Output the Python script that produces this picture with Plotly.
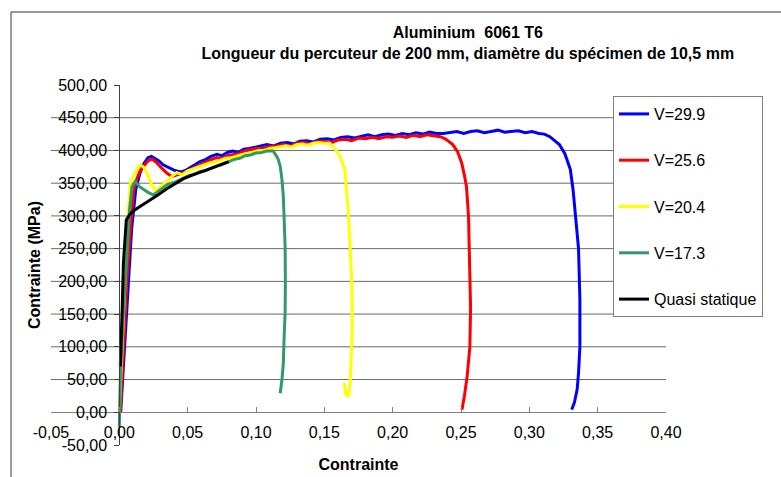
import plotly.graph_objects as go

# ---------------- data ----------------
SERIES_NAMES = ["V=29.9", "V=25.6", "V=20.4", "V=17.3", "Quasi statique"]

X_V299 = [0.001, 0.004, 0.0065, 0.009, 0.012, 0.015, 0.018, 0.021, 0.0235, 0.026, 0.029, 0.032,
          0.036, 0.040, 0.0446, 0.048, 0.052, 0.056, 0.059, 0.063, 0.067, 0.0714, 0.075, 0.079,
          0.083, 0.087, 0.091, 0.095, 0.099, 0.103, 0.108, 0.113, 0.118, 0.123, 0.128, 0.132,
          0.137, 0.142, 0.147, 0.152, 0.157, 0.162, 0.167, 0.172, 0.177, 0.182, 0.187, 0.192,
          0.197, 0.202, 0.207, 0.212, 0.217, 0.222, 0.227, 0.232, 0.237, 0.242, 0.247, 0.252,
          0.257, 0.262, 0.267, 0.272, 0.277, 0.282, 0.287, 0.292, 0.297, 0.302, 0.307, 0.311,
          0.315, 0.318, 0.322, 0.326, 0.330, 0.332, 0.334, 0.336, 0.337, 0.337, 0.336, 0.335,
          0.333, 0.331]
Y_V299 = [0, 100, 200, 280, 340, 365, 380, 389, 391, 388, 384, 378,
          374, 370, 367, 369, 374, 379, 383, 386, 391, 394, 392, 397,
          399, 397, 402, 403, 405, 406, 409, 407, 411, 412, 410, 414,
          415, 413, 417, 418, 416, 420, 421, 419, 422, 424, 421, 424,
          425, 423, 426, 424, 427, 425, 428, 426, 426, 428, 429, 426,
          429, 430, 427, 429, 431, 428, 429, 430, 427, 429, 426, 425,
          421, 416, 409, 395, 371, 340, 300, 250, 172, 100, 60, 35,
          15, 4]

X_V256 = [0.0007, 0.003, 0.0056, 0.008, 0.0105, 0.013, 0.0155, 0.0177, 0.021, 0.024, 0.027,
          0.031, 0.035, 0.0385, 0.043, 0.047, 0.051, 0.055, 0.059, 0.063, 0.067, 0.0714, 0.075,
          0.079, 0.083, 0.087, 0.091, 0.095, 0.100, 0.105, 0.110, 0.115, 0.120, 0.125, 0.130,
          0.135, 0.140, 0.145, 0.150, 0.155, 0.160, 0.165, 0.170, 0.175, 0.180, 0.185, 0.190,
          0.195, 0.200, 0.205, 0.210, 0.215, 0.220, 0.225, 0.230, 0.235, 0.239, 0.244, 0.2475,
          0.2505, 0.2525, 0.254, 0.2555, 0.2565, 0.257, 0.2565, 0.2545, 0.2525, 0.2507]
Y_V256 = [0, 100, 203, 279, 340, 358, 370, 376, 384, 387, 382,
          373, 365, 360, 363, 366, 370, 374, 378, 383, 386, 389, 387,
          392, 394, 395, 399, 401, 403, 403, 406, 407, 409, 407, 411,
          412, 410, 414, 414, 412, 416, 417, 415, 419, 418, 420, 418,
          421, 420, 422, 420, 423, 421, 424, 423, 421, 417, 409, 398,
          381, 362, 345, 300, 230, 160, 100, 55, 25, 4]

X_V204 = [0.000, 0.002, 0.004, 0.006, 0.008, 0.0105, 0.013, 0.0154, 0.018, 0.021, 0.0235,
          0.026, 0.029, 0.031, 0.034, 0.037, 0.040, 0.042, 0.046, 0.050, 0.054, 0.058, 0.062,
          0.066, 0.070, 0.074, 0.078, 0.082, 0.086, 0.090, 0.094, 0.098, 0.102, 0.106, 0.110,
          0.114, 0.118, 0.122, 0.126, 0.130, 0.134, 0.138, 0.142, 0.146, 0.150, 0.154, 0.158,
          0.1615, 0.165, 0.1676, 0.170, 0.1705, 0.170, 0.1689, 0.1676, 0.1655, 0.1647]
Y_V204 = [0, 100, 200, 290, 350, 362, 372, 378, 374, 362, 348,
          340, 342, 346, 352, 358, 363, 366, 363, 369, 372, 374, 377,
          381, 382, 385, 388, 389, 392, 394, 395, 398, 400, 400, 403,
          404, 405, 407, 405, 409, 410, 408, 411, 412, 411, 411, 402,
          391, 371, 305, 203, 140, 100, 45, 24, 28, 45]

X_V173 = [0.000, 0.0004, 0.0007, 0.003, 0.0056, 0.0075, 0.0093, 0.0117, 0.0145, 0.0178, 0.021,
          0.025, 0.028, 0.030, 0.035, 0.040, 0.044, 0.047, 0.051, 0.055, 0.059, 0.063, 0.067,
          0.071, 0.075, 0.079, 0.0836, 0.088, 0.092, 0.0958, 0.100, 0.104, 0.108, 0.1126, 0.114,
          0.116, 0.1177, 0.119, 0.120, 0.1213, 0.1215, 0.1213, 0.1205, 0.120, 0.119, 0.1177]
Y_V173 = [-22, 10, 50, 152, 253, 310, 345, 353, 345, 340, 336,
          332, 337, 340, 348, 351, 355, 357, 362, 364, 368, 369, 373,
          376, 378, 382, 386, 388, 392, 393, 396, 397, 399, 399, 395,
          388, 376, 355, 330, 253, 200, 152, 110, 75, 50, 29]

X_QS = [0.0007, 0.0015, 0.002, 0.003, 0.004, 0.0051, 0.0075, 0.0105, 0.014, 0.0178, 0.0227,
        0.0276, 0.035, 0.0398, 0.047, 0.053, 0.059, 0.065, 0.070, 0.075, 0.080]
Y_QS = [70, 110, 152, 228, 270, 294, 302, 308, 313, 318, 325,
        331, 342, 348, 357, 362, 367, 372, 375, 379, 383]

X_TICKS = [-0.05, 0.0, 0.05, 0.10, 0.15, 0.20, 0.25, 0.30, 0.35, 0.40]
Y_TICKS = [-50, 0, 50, 100, 150, 200, 250, 300, 350, 400, 450, 500]
Y_GRID = [50, 100, 150, 200, 250, 300, 350, 400, 450]

TITLE = "Aluminium  6061 T6<br>Longueur du percuteur de 200 mm, diamètre du spécimen de 10,5 mm"
X_TITLE = "Contrainte"
Y_TITLE = "Contrainte (MPa)"

# ---------------- styling ----------------
COLORS = ["#0000FF", "#FF0000", "#FFFF00", "#339966", "#000000"]
FONT = "Liberation Sans, Arial, sans-serif"


def fr(v, nd=2):
    return f"{v:.{nd}f}".replace(".", ",")


fig = go.Figure()
series = [(X_V299, Y_V299), (X_V256, Y_V256), (X_V204, Y_V204), (X_V173, Y_V173), (X_QS, Y_QS)]
for i, ((xs, ys), name, col) in enumerate(zip(series, SERIES_NAMES, COLORS)):
    fig.add_trace(go.Scatter(x=xs, y=ys, mode="lines", name=name,
                             legendgroup=f"g{i}",
                             line=dict(color=col, width=3)))

for g in Y_GRID:
    fig.add_shape(type="line", xref="paper", yref="y", x0=0, x1=1, y0=g, y1=g,
                  line=dict(color="#6a6a6a", width=1), layer="below")

# outer chart border
fig.add_shape(type="rect", xref="paper", yref="paper",
              x0=-0.065, x1=1.25, y0=-0.2, y1=1.2028,
              line=dict(color="#333333", width=1), layer="below")

x0_frac = (0 - (-0.05)) / (0.40 - (-0.05))
y0_frac = (0 - (-50)) / (500 - (-50))

fig.update_layout(
    width=781, height=477,
    margin=dict(l=51, r=115, t=85, b=32, autoexpand=False),
    paper_bgcolor="white", plot_bgcolor="white",
    font=dict(family=FONT, size=16, color="black"),
    title=dict(text=f"<b>{TITLE}</b>", x=0.599, xanchor="center",
               y=1 - 38 / 477, yanchor="top",
               font=dict(family=FONT, size=16, color="black")),
    xaxis=dict(range=[-0.05, 0.40], tickvals=X_TICKS,
               ticktext=[fr(v) for v in X_TICKS],
               anchor="free", position=y0_frac, automargin=False,
               showgrid=False, zeroline=False,
               showline=True, linecolor="#808080", linewidth=1,
               ticks="inside", ticklen=5, tickcolor="#808080",
               ticklabelstandoff=6,
               title=dict(text=f"<b>{X_TITLE}</b>", font=dict(size=16), standoff=18)),
    yaxis=dict(range=[-50, 500], tickvals=Y_TICKS,
               ticktext=[fr(v) for v in Y_TICKS],
               anchor="free", position=x0_frac, automargin=False,
               showgrid=False, zeroline=False,
               showline=True, linecolor="#404040", linewidth=1,
               ticks="outside", ticklen=5, tickcolor="#404040",
               ticklabelstandoff=4,
               title=dict(text=f"<b>{Y_TITLE}</b>", font=dict(size=16), standoff=12)),
    legend=dict(x=(613 - 51) / 615, y=(445 - 96) / 360, xanchor="left", yanchor="top",
                bgcolor="white", bordercolor="#808080", borderwidth=1,
                tracegroupgap=22.5, traceorder="grouped",
                font=dict(family=FONT, size=16, color="black")),
    showlegend=True,
)

fig.write_html("out.html")
